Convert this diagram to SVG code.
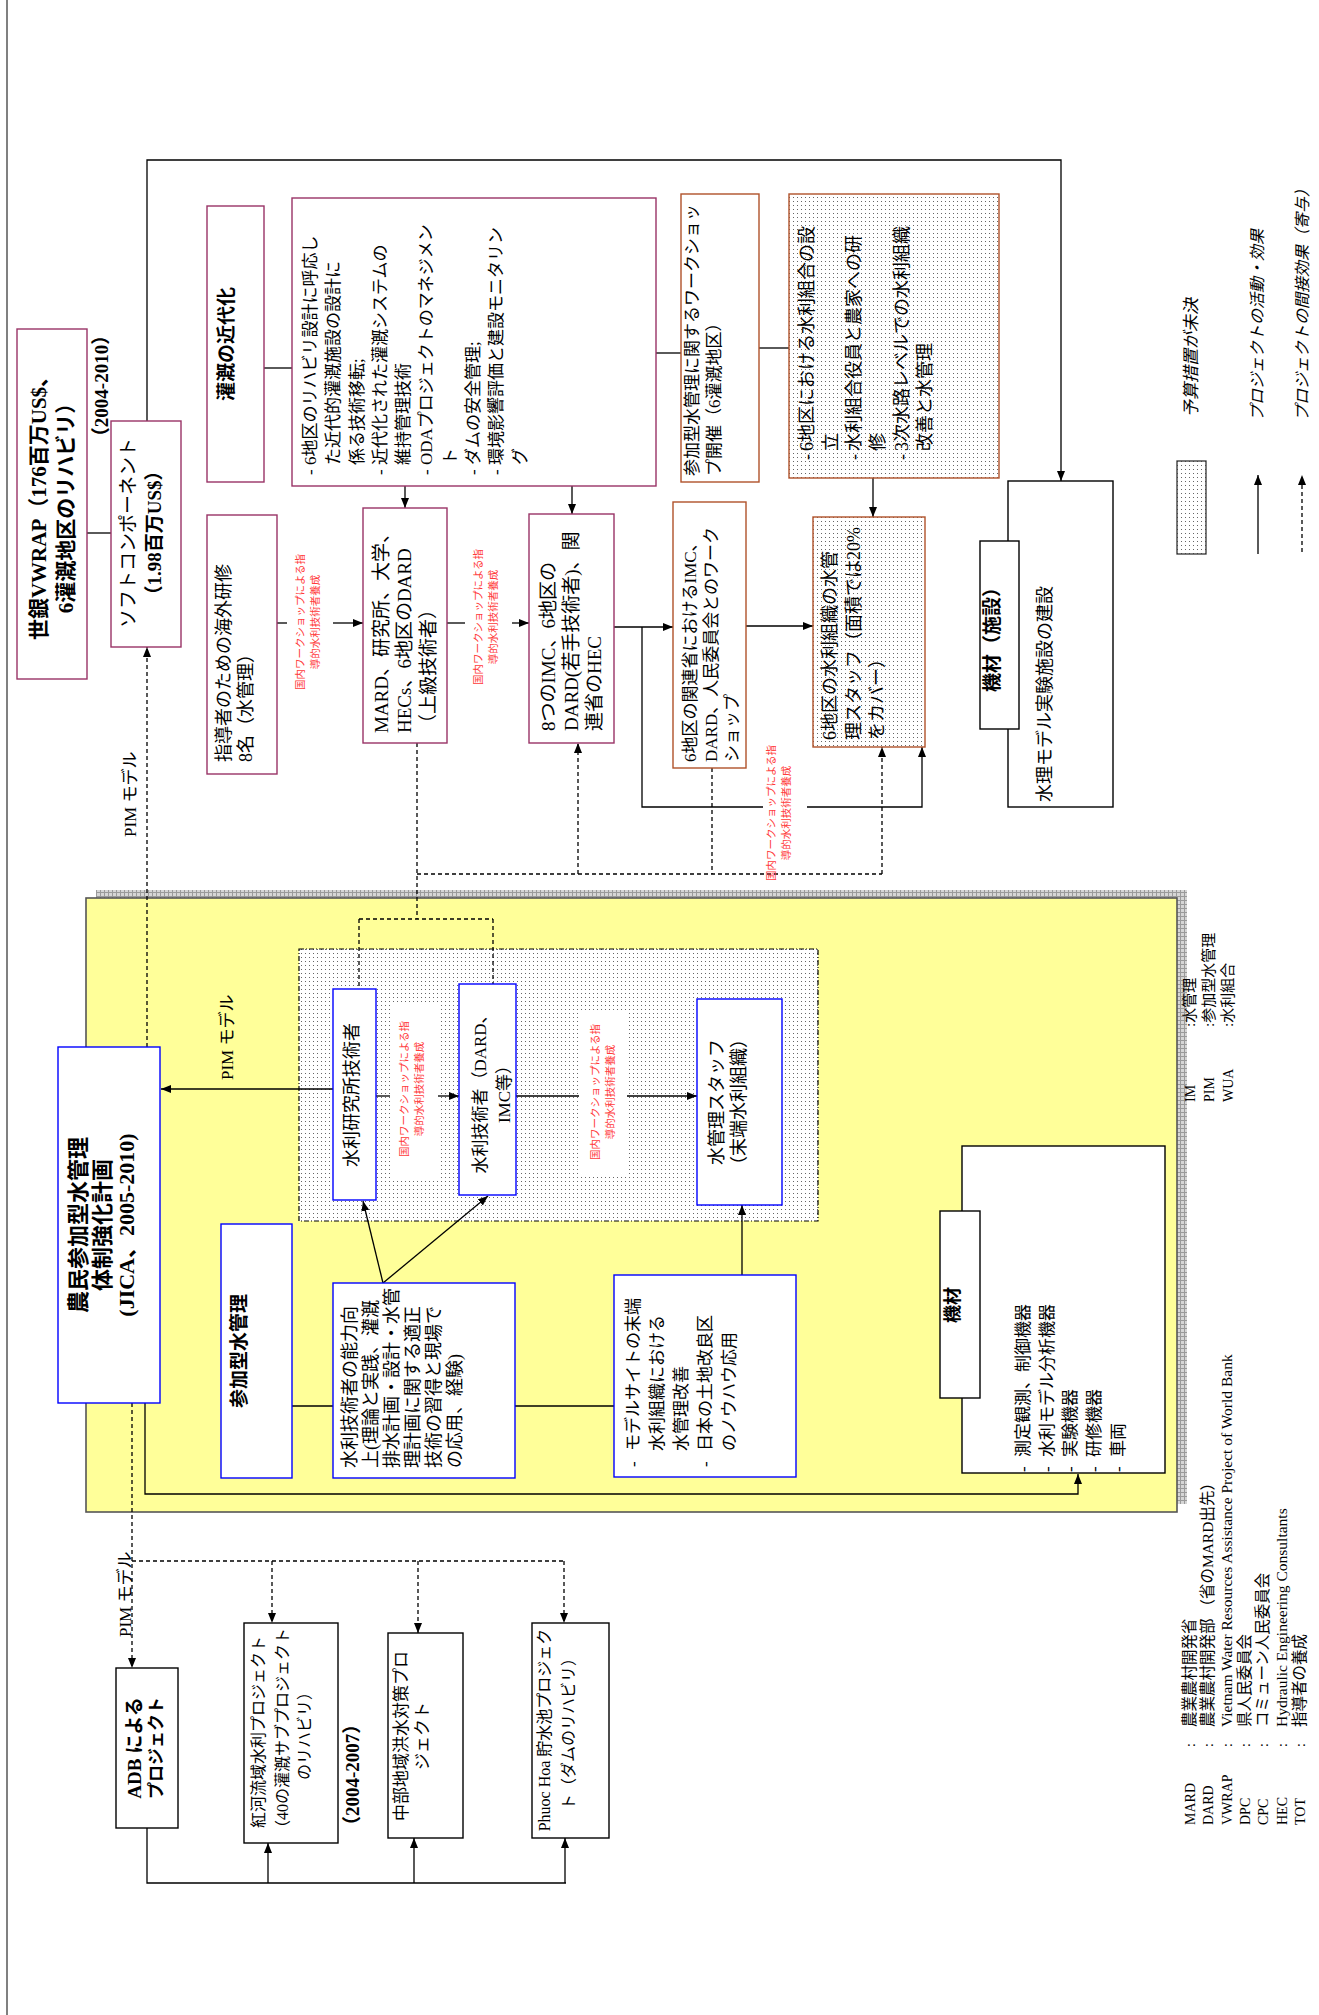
<svg xmlns="http://www.w3.org/2000/svg" width="1319" height="2015" viewBox="0 0 1319 2015">
<style>
.t{font-family:"Liberation Serif","Noto Sans CJK JP",serif;fill:#000}
.b{font-weight:bold}
.i{font-style:italic}
.r{fill:#ff3b3b;font-size:10.5px}
.pk{fill:#fff;stroke:#993366;stroke-width:1.4}
.br{fill:#fff;stroke:#b0522a;stroke-width:1.4}
.brd{fill:url(#dots);stroke:#b0522a;stroke-width:1.4}
.bl{fill:#fff;stroke:#0000ff;stroke-width:1.4}
.bk{fill:#fff;stroke:#000;stroke-width:1.4}
.ln{fill:none;stroke:#000;stroke-width:1.3}
.dl{fill:none;stroke:#000;stroke-width:1.3;stroke-dasharray:4 3}
.ar{marker-end:url(#ah)}
</style>
<defs>
<marker id="ah" viewBox="0 0 10 8" refX="10" refY="4" markerWidth="10" markerHeight="8" markerUnits="userSpaceOnUse" orient="auto">
<path d="M0,0L10,4L0,8z" fill="#000"/>
</marker>
<pattern id="dots" width="4" height="4" patternUnits="userSpaceOnUse">
<rect width="4" height="4" fill="#fff"/><rect x="1" y="1" width="1" height="1" fill="#666"/>
</pattern>
<pattern id="grid" width="4" height="4" patternUnits="userSpaceOnUse">
<rect width="4" height="4" fill="#d6d6d6"/><path d="M0,0.5H4M0.5,0V4" stroke="#9a9a9a" stroke-width="1"/>
</pattern>
</defs>
<rect width="1319" height="2015" fill="#fff"/>
<path d="M7,0V2015" stroke="#808080" stroke-width="2"/>

<!-- yellow frame -->
<g id="jica-frame">
<rect x="96" y="890" width="1091" height="614" fill="url(#grid)"/>
<rect x="86" y="898" width="1091" height="614" fill="#ffff99" stroke="#555" stroke-width="1.6"/>
<rect x="299" y="949" width="519" height="272" fill="url(#dots)" stroke="#000" stroke-width="1.2" stroke-dasharray="5 2 1 2"/>
<rect x="390" y="1002" width="48" height="178" fill="#fff"/>
<rect x="579" y="1010" width="48" height="164" fill="#fff"/>
</g>

<!-- connectors -->
<g id="connectors">
<path class="ln" d="M87,533H111"/>
<path class="ln ar" d="M147,421V160H1061V481"/>
<path class="ln" d="M264,368H292"/>
<path class="ln" d="M656,353H681"/>
<path class="ln" d="M759,348H789"/>
<path class="ln ar" d="M405,486V508"/>
<path class="ln ar" d="M572,486V514"/>
<path class="ln" d="M277,623H287"/>
<path class="ln ar" d="M333,623H363"/>
<path class="ln" d="M447,623H465"/>
<path class="ln ar" d="M512,623H529"/>
<path class="ln ar" d="M614,627H673"/>
<path class="ln" d="M642,627V807H763"/>
<path class="ln ar" d="M807,807H922V747"/>
<path class="ln ar" d="M746,626H813"/>
<path class="ln ar" d="M873,478V517"/>
<path class="ln ar" d="M333,1089H161"/>
<path class="ln" d="M376,1096H390"/>
<path class="ln ar" d="M438,1096H459"/>
<path class="ln" d="M516,1096H579"/>
<path class="ln ar" d="M627,1096H697"/>
<path class="ln" d="M292,1406H333"/>
<path class="ln" d="M515,1406H614"/>
<path class="ln ar" d="M383,1283L363,1201"/>
<path class="ln ar" d="M383,1283L488,1196"/>
<path class="ln ar" d="M742,1275V1205"/>
<path class="ln ar" d="M145,1403V1494H1078V1474"/>
<path class="ln ar" d="M1258,554V475"/>
<path class="ln" d="M147,1828V1883H566"/>
<path class="ln ar" d="M268,1883V1843"/>
<path class="ln ar" d="M414,1883V1838"/>
<path class="ln ar" d="M565,1883V1838"/>
<path class="dl ar" d="M147,1047V647"/>
<path class="dl ar" d="M132,1403V1668"/>
<path class="dl" d="M132,1561H564"/>
<path class="dl ar" d="M272,1561V1623"/>
<path class="dl ar" d="M418,1561V1633"/>
<path class="dl ar" d="M564,1561V1623"/>
<path class="dl" d="M417,743V919M359,919H493M359,919V989M493,919V984"/>
<path class="dl" d="M417,874H882M712,768V874"/>
<path class="dl ar" d="M578,874V743"/>
<path class="dl ar" d="M882,874V747"/>
<path class="dl ar" d="M1302,552V475"/>
<text class="t" font-size="17" transform="translate(136,837) rotate(-90)">PIM モデル</text>
<text class="t" font-size="17" transform="translate(233,1080) rotate(-90)">PIM モデル</text>
<text class="t" font-size="17" transform="translate(131,1637) rotate(-90)">PIM モデル</text>
<g text-anchor="middle">
<text class="t r" transform="translate(304,622) rotate(-90)">国内ワークショップによる指</text>
<text class="t r" transform="translate(319,622) rotate(-90)">導的水利技術者養成</text>
<text class="t r" transform="translate(482,617) rotate(-90)">国内ワークショップによる指</text>
<text class="t r" transform="translate(497,617) rotate(-90)">導的水利技術者養成</text>
<text class="t r" transform="translate(775,813) rotate(-90)">国内ワークショップによる指</text>
<text class="t r" transform="translate(790,813) rotate(-90)">導的水利技術者養成</text>
<text class="t r" transform="translate(408,1089) rotate(-90)">国内ワークショップによる指</text>
<text class="t r" transform="translate(423,1089) rotate(-90)">導的水利技術者養成</text>
<text class="t r" transform="translate(599,1092) rotate(-90)">国内ワークショップによる指</text>
<text class="t r" transform="translate(614,1092) rotate(-90)">導的水利技術者養成</text>
</g>
</g>

<g id="vwrap">
<rect x="17" y="329" width="70" height="350" class="pk"/>
<text class="t b" font-size="21" text-anchor="middle" transform="translate(46,503) rotate(-90)">世銀VWRAP（176百万US$、</text>
<text class="t b" font-size="21" text-anchor="middle" transform="translate(73,503) rotate(-90)">6灌漑地区のリハビリ）</text>
</g>
<g id="vwrap-period">
<text class="t b" font-size="19" text-anchor="middle" transform="translate(108,386) rotate(-90)">（2004-2010）</text>
</g>
<g id="soft">
<rect x="111" y="421" width="70" height="226" class="pk"/>
<text class="t" font-size="19" text-anchor="middle" transform="translate(135,533) rotate(-90)">ソフトコンポーネント</text>
<text class="t b" font-size="19" text-anchor="middle" transform="translate(161,533) rotate(-90)">（1.98百万US$）</text>
</g>
<g id="modern">
<rect x="207" y="206" width="57" height="276" class="pk"/>
<text class="t b" font-size="19" text-anchor="middle" transform="translate(233,344) rotate(-90)">灌漑の近代化</text>
</g>
<g id="overseas">
<rect x="207" y="515" width="70" height="259" class="pk"/>
<text class="t" font-size="18" transform="translate(230,762) rotate(-90)">指導者のための海外研修</text>
<text class="t" font-size="18" transform="translate(252,762) rotate(-90)">8名（水管理）</text>
</g>
<g id="tech-transfer">
<rect x="292" y="198" width="364" height="288" class="pk"/>
<g font-size="17">
<text class="t" transform="translate(316,475) rotate(-90)">-</text>
<text class="t" transform="translate(316,465) rotate(-90)">6地区のリハビリ設計に呼応し</text>
<text class="t" transform="translate(339,465) rotate(-90)">た近代的灌漑施設の設計に</text>
<text class="t" transform="translate(363,465) rotate(-90)">係る技術移転;</text>
<text class="t" transform="translate(386,475) rotate(-90)">-</text>
<text class="t" transform="translate(386,465) rotate(-90)">近代化された灌漑システムの</text>
<text class="t" transform="translate(409,465) rotate(-90)">維持管理技術</text>
<text class="t" transform="translate(432,475) rotate(-90)">-</text>
<text class="t" transform="translate(432,465) rotate(-90)">ODAプロジェクトのマネジメン</text>
<text class="t" transform="translate(456,465) rotate(-90)">ト</text>
<text class="t" transform="translate(479,475) rotate(-90)">-</text>
<text class="t" transform="translate(479,465) rotate(-90)">ダムの安全管理;</text>
<text class="t" transform="translate(502,475) rotate(-90)">-</text>
<text class="t" transform="translate(502,465) rotate(-90)">環境影響評価と建設モニタリン</text>
<text class="t" transform="translate(526,465) rotate(-90)">グ</text>
</g>
</g>
<g id="mard">
<rect x="363" y="508" width="84" height="235" class="pk"/>
<text class="t" font-size="19" transform="translate(388,733) rotate(-90)">MARD、研究所、大学、</text>
<text class="t" font-size="19" transform="translate(411,733) rotate(-90)">HECs、6地区のDARD</text>
<text class="t" font-size="19" transform="translate(435,733) rotate(-90)">（上級技術者）</text>
</g>
<g id="imc">
<rect x="529" y="514" width="85" height="229" class="pk"/>
<text class="t" font-size="19" transform="translate(555,731) rotate(-90)">8つのIMC、6地区の</text>
<text class="t" font-size="19" transform="translate(578,731) rotate(-90)">DARD(若手技術者)、関</text>
<text class="t" font-size="19" transform="translate(601,731) rotate(-90)">連省のHEC</text>
</g>
<g id="pim-ws">
<rect x="681" y="194" width="78" height="288" class="br"/>
<text class="t" font-size="17" transform="translate(698,476) rotate(-90)">参加型水管理に関するワークショッ</text>
<text class="t" font-size="17" transform="translate(720,476) rotate(-90)">プ開催（6灌漑地区）</text>
</g>
<g id="wua-setup">
<rect x="789" y="194" width="210" height="284" class="brd"/>
<g font-size="18">
<text class="t" transform="translate(813,460) rotate(-90)">-</text>
<text class="t" transform="translate(813,451) rotate(-90)">6地区における水利組合の設</text>
<text class="t" transform="translate(837,451) rotate(-90)">立</text>
<text class="t" transform="translate(860,460) rotate(-90)">-</text>
<text class="t" transform="translate(860,451) rotate(-90)">水利組合役員と農家への研</text>
<text class="t" transform="translate(884,451) rotate(-90)">修</text>
<text class="t" transform="translate(908,460) rotate(-90)">-</text>
<text class="t" transform="translate(908,451) rotate(-90)">3次水路レベルでの水利組織</text>
<text class="t" transform="translate(931,451) rotate(-90)">改善と水管理</text>
</g>
</g>
<g id="ws-ministries">
<rect x="673" y="502" width="73" height="266" class="br"/>
<text class="t" font-size="17" transform="translate(696,762) rotate(-90)">6地区の関連省におけるIMC、</text>
<text class="t" font-size="17" transform="translate(717,762) rotate(-90)">DARD、人民委員会とのワーク</text>
<text class="t" font-size="17" transform="translate(738,762) rotate(-90)">ショップ</text>
</g>
<g id="wua-staff">
<rect x="813" y="517" width="112" height="230" class="brd"/>
<text class="t" font-size="18" transform="translate(836,740) rotate(-90)">6地区の水利組織の水管</text>
<text class="t" font-size="18" transform="translate(860,740) rotate(-90)">理スタッフ（面積では20%</text>
<text class="t" font-size="18" transform="translate(883,740) rotate(-90)">をカバー）</text>
</g>
<g id="hydraulic-model">
<rect x="1008" y="481" width="105" height="326" class="bk"/>
<text class="t" font-size="18" transform="translate(1051,802) rotate(-90)">水理モデル実験施設の建設</text>
</g>
<g id="equipment-facility">
<rect x="980" y="541" width="39" height="188" class="bk"/>
<text class="t b" font-size="19" text-anchor="middle" transform="translate(999,635) rotate(-90)">機材（施設）</text>
</g>

<g id="legend">
<rect x="1177" y="461" width="29" height="93" fill="url(#dots)" stroke="#333" stroke-width="1.3"/>
<text class="t i" font-size="17" transform="translate(1197,417) rotate(-90)">予算措置が未決</text>
<text class="t i" font-size="16" transform="translate(1263,421) rotate(-90)">プロジェクトの活動・効果</text>
<text class="t i" font-size="16" transform="translate(1308,421) rotate(-90)">プロジェクトの間接効果（寄与）</text>
</g>

<g id="jica">
<rect x="58" y="1047" width="102" height="356" class="bl"/>
<text class="t b" font-size="22" text-anchor="middle" transform="translate(86,1225) rotate(-90)">農民参加型水管理</text>
<text class="t b" font-size="22" text-anchor="middle" transform="translate(110,1225) rotate(-90)">体制強化計画</text>
<text class="t b" font-size="22" text-anchor="middle" transform="translate(134,1225) rotate(-90)">(JICA、2005-2010)</text>
</g>
<g id="research-eng">
<rect x="333" y="989" width="43" height="211" class="bl"/>
<text class="t" font-size="18" text-anchor="middle" transform="translate(358,1095) rotate(-90)">水利研究所技術者</text>
</g>
<g id="water-eng">
<rect x="459" y="984" width="57" height="211" class="bl"/>
<text class="t" font-size="17" text-anchor="middle" transform="translate(486,1090) rotate(-90)">水利技術者（DARD、</text>
<text class="t" font-size="17" text-anchor="middle" transform="translate(510,1090) rotate(-90)">IMC等）</text>
</g>
<g id="wm-staff">
<rect x="697" y="999" width="85" height="206" class="bl"/>
<text class="t" font-size="18" text-anchor="middle" transform="translate(723,1102) rotate(-90)">水管理スタッフ</text>
<text class="t" font-size="18" text-anchor="middle" transform="translate(745,1102) rotate(-90)">（末端水利組織）</text>
</g>
<g id="pim">
<rect x="221" y="1224" width="71" height="254" class="bl"/>
<text class="t b" font-size="19" text-anchor="middle" transform="translate(246,1351) rotate(-90)">参加型水管理</text>
</g>
<g id="capacity">
<rect x="333" y="1283" width="182" height="195" class="bl"/>
<g font-size="18">
<text class="t" transform="translate(356,1468) rotate(-90)">水利技術者の能力向</text>
<text class="t" transform="translate(377,1468) rotate(-90)">上(理論と実践、灌漑</text>
<text class="t" transform="translate(398,1468) rotate(-90)">排水計画・設計・水管</text>
<text class="t" transform="translate(419,1468) rotate(-90)">理計画に関する適正</text>
<text class="t" transform="translate(440,1468) rotate(-90)">技術の習得と現場で</text>
<text class="t" transform="translate(461,1468) rotate(-90)">の応用、経験)</text>
</g>
</g>
<g id="model-site">
<rect x="614" y="1275" width="182" height="202" class="bl"/>
<g font-size="17">
<text class="t" transform="translate(639,1467) rotate(-90)">-</text>
<text class="t" transform="translate(639,1451) rotate(-90)">モデルサイトの末端</text>
<text class="t" transform="translate(663,1451) rotate(-90)">水利組織における</text>
<text class="t" transform="translate(687,1451) rotate(-90)">水管理改善</text>
<text class="t" transform="translate(711,1467) rotate(-90)">-</text>
<text class="t" transform="translate(711,1451) rotate(-90)">日本の土地改良区</text>
<text class="t" transform="translate(735,1451) rotate(-90)">のノウハウ応用</text>
</g>
</g>
<g id="equipment">
<rect x="962" y="1146" width="203" height="327" class="bk"/>
<rect x="940" y="1211" width="40" height="187" class="bk"/>
<text class="t b" font-size="18" text-anchor="middle" transform="translate(959,1305) rotate(-90)">機材</text>
<g font-size="17">
<text class="t" transform="translate(1029,1472) rotate(-90)">-</text>
<text class="t" transform="translate(1029,1457) rotate(-90)">測定観測、制御機器</text>
<text class="t" transform="translate(1053,1472) rotate(-90)">-</text>
<text class="t" transform="translate(1053,1457) rotate(-90)">水利モデル分析機器</text>
<text class="t" transform="translate(1076,1472) rotate(-90)">-</text>
<text class="t" transform="translate(1076,1457) rotate(-90)">実験機器</text>
<text class="t" transform="translate(1100,1472) rotate(-90)">-</text>
<text class="t" transform="translate(1100,1457) rotate(-90)">研修機器</text>
<text class="t" transform="translate(1124,1472) rotate(-90)">-</text>
<text class="t" transform="translate(1124,1457) rotate(-90)">車両</text>
</g>
</g>

<g id="abbrev-top" font-size="14">
<text class="t" transform="translate(1195,1102) rotate(-90)">IM</text>
<text class="t" transform="translate(1214,1102) rotate(-90)">PIM</text>
<text class="t" transform="translate(1233,1102) rotate(-90)">WUA</text>
<text class="t" font-size="15" transform="translate(1195,1027) rotate(-90)">:水管理</text>
<text class="t" font-size="15" transform="translate(1214,1027) rotate(-90)">:参加型水管理</text>
<text class="t" font-size="15" transform="translate(1233,1027) rotate(-90)">:水利組合</text>
</g>

<g id="adb">
<rect x="116" y="1668" width="62" height="160" class="bk"/>
<text class="t b" font-size="19" text-anchor="middle" transform="translate(141,1748) rotate(-90)">ADB による</text>
<text class="t b" font-size="17" text-anchor="middle" transform="translate(162,1748) rotate(-90)">プロジェクト</text>
</g>
<g id="red-river">
<rect x="244" y="1623" width="94" height="220" class="bk"/>
<text class="t" font-size="16" text-anchor="middle" transform="translate(264,1732) rotate(-90)">紅河流域水利プロジェクト</text>
<text class="t" font-size="16" text-anchor="middle" transform="translate(288,1732) rotate(-90)">（40の灌漑サブプロジェクト</text>
<text class="t" font-size="16" text-anchor="middle" transform="translate(310,1732) rotate(-90)">のリハビリ）</text>
</g>
<g id="red-river-period">
<text class="t b" font-size="19" transform="translate(359,1835) rotate(-90)">（2004-2007）</text>
</g>
<g id="central">
<rect x="388" y="1633" width="75" height="205" class="bk"/>
<text class="t" font-size="17" text-anchor="middle" transform="translate(407,1736) rotate(-90)">中部地域洪水対策プロ</text>
<text class="t" font-size="17" text-anchor="middle" transform="translate(428,1736) rotate(-90)">ジェクト</text>
</g>
<g id="phuoc-hoa">
<rect x="532" y="1623" width="77" height="215" class="bk"/>
<text class="t" font-size="16" text-anchor="middle" transform="translate(550,1730) rotate(-90)">Phuoc Hoa 貯水池プロジェク</text>
<text class="t" font-size="16" text-anchor="middle" transform="translate(574,1730) rotate(-90)">ト（ダムのリハビリ）</text>
</g>

<g id="abbrev-bottom" font-size="14">
<text class="t" transform="translate(1195,1825) rotate(-90)">MARD</text>
<text class="t" transform="translate(1213,1825) rotate(-90)">DARD</text>
<text class="t" transform="translate(1232,1825) rotate(-90)">VWRAP</text>
<text class="t" transform="translate(1250,1825) rotate(-90)">DPC</text>
<text class="t" transform="translate(1268,1825) rotate(-90)">CPC</text>
<text class="t" transform="translate(1287,1825) rotate(-90)">HEC</text>
<text class="t" transform="translate(1305,1825) rotate(-90)">TOT</text>
<text class="t" transform="translate(1195,1747) rotate(-90)">:</text>
<text class="t" transform="translate(1213,1747) rotate(-90)">:</text>
<text class="t" transform="translate(1232,1747) rotate(-90)">:</text>
<text class="t" transform="translate(1250,1747) rotate(-90)">:</text>
<text class="t" transform="translate(1268,1747) rotate(-90)">:</text>
<text class="t" transform="translate(1287,1747) rotate(-90)">:</text>
<text class="t" transform="translate(1305,1747) rotate(-90)">:</text>
<g font-size="15.5">
<text class="t" transform="translate(1195,1727) rotate(-90)">農業農村開発省</text>
<text class="t" transform="translate(1213,1727) rotate(-90)">農業農村開発部 （省のMARD出先）</text>
<text class="t" transform="translate(1232,1727) rotate(-90)">Vietnam Water Resources Assistance Project of World Bank</text>
<text class="t" transform="translate(1250,1727) rotate(-90)">県人民委員会</text>
<text class="t" transform="translate(1268,1727) rotate(-90)">コミューン人民委員会</text>
<text class="t" transform="translate(1287,1727) rotate(-90)">Hydraulic Engineering Consultants</text>
<text class="t" transform="translate(1305,1727) rotate(-90)">指導者の養成</text>
</g>
</g>
</svg>
